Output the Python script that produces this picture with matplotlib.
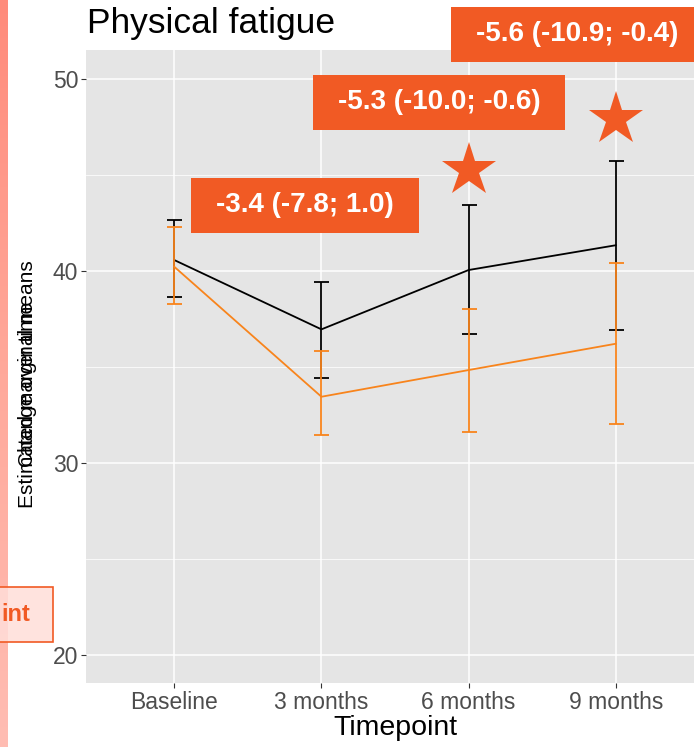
import numpy as np
import matplotlib
matplotlib.use("Agg")
import matplotlib.pyplot as plt
import matplotlib.patches as mpatches
import matplotlib.transforms as mtransforms
from matplotlib.colors import LinearSegmentedColormap

plt.rcParams['font.family'] = ['Liberation Sans', 'DejaVu Sans']

# ---------------- data ----------------
timepoints = ["Baseline", "3 months", "6 months", "9 months"]
ref_mean = [40.57, 36.96, 40.05, 41.34]
ref_lo = [38.63, 34.41, 36.72, 36.94]
ref_hi = [42.66, 39.44, 43.42, 45.71]
int_mean = [40.22, 33.45, 34.84, 36.21]
int_lo = [38.27, 31.44, 31.61, 32.03]
int_hi = [42.27, 35.83, 38.00, 40.43]
diff_labels = ["-3.4 (-7.8; 1.0)", "-5.3 (-10.0; -0.6)", "-5.6 (-10.9; -0.4)"]
label_x = [1.89, 2.80, 3.735]
label_y = [43.42, 48.78, 52.32]
star_x = [3, 4]
star_y = [45.24, 47.92]
yticks = [20, 30, 40, 50]
yminor = [25, 35, 45]

ACCENT = "#F15A24"
ORANGE = "#F8841C"

W, H = 694, 747
fig = plt.figure(figsize=(W / 100, H / 100), dpi=100)
fig.patch.set_facecolor("white")

# panel (extends a bit beyond right edge, as in the cropped reference)
ax = fig.add_axes([86 / W, (H - 683) / H, 618 / W, 633 / H])
ax.set_facecolor("#E5E5E5")
for s in ax.spines.values():
    s.set_visible(False)

x = np.arange(1, len(timepoints) + 1)
ax.set_xlim(0.4, 4.6)
ax.set_ylim(18.54, 51.51)
ax.set_xticks(x)
ax.set_xticklabels(timepoints)
ax.set_yticks(yticks)
ax.set_yticks(yminor, minor=True)
ax.grid(which="major", color="white", linewidth=1.1)
ax.grid(which="minor", axis="y", color="white", linewidth=0.55)
ax.set_axisbelow(True)
ax.tick_params(axis="both", which="major", length=3.5, width=0.8, color="#333333",
               labelcolor="#4D4D4D", labelsize=16.5, pad=2)
ax.tick_params(axis="both", which="minor", length=0)

LW = 1.3
# series
ax.plot(x, ref_mean, color="black", lw=LW, zorder=3)
ax.errorbar(x, ref_mean,
            yerr=[np.array(ref_mean) - np.array(ref_lo), np.array(ref_hi) - np.array(ref_mean)],
            fmt="none", ecolor="black", elinewidth=LW, capsize=5.4, capthick=LW, zorder=3)
ax.plot(x, int_mean, color=ORANGE, lw=LW, zorder=4)
ax.errorbar(x, int_mean,
            yerr=[np.array(int_mean) - np.array(int_lo), np.array(int_hi) - np.array(int_mean)],
            fmt="none", ecolor=ORANGE, elinewidth=LW, capsize=5.4, capthick=LW, zorder=4)

# stars
ax.plot(star_x, star_y, linestyle="none", marker="*", markersize=41, color=ACCENT,
        markeredgewidth=0, zorder=5, clip_on=False)

# labels
texts = []
for lx, ly, lab in zip(label_x, label_y, diff_labels):
    t = ax.text(lx, ly, lab, ha="center", va="center", color="white",
                fontsize=20, fontweight="bold", zorder=7, clip_on=False)
    texts.append(t)

fig.canvas.draw()
renderer = fig.canvas.get_renderer()
for t, lx, ly in zip(texts, label_x, label_y):
    bb = t.get_window_extent(renderer)
    w = bb.width + 50
    h = 55
    tr = mtransforms.IdentityTransform() + mtransforms.ScaledTranslation(lx, ly, ax.transData)
    rect = mpatches.Rectangle((-w / 2, -h / 2), w, h, transform=tr, facecolor=ACCENT,
                              edgecolor="none", zorder=6, clip_on=False)
    ax.add_patch(rect)

ax.set_xlabel("Timepoint", fontsize=20.5, color="black", labelpad=1)

# title
fig.text(87 / W, 1 - 33 / H, "Physical fatigue", fontsize=25.5, color="black",
         ha="left", va="baseline")

# overlapping y labels (as in the reference)
fig.text(28 / W, 1 - 384 / H, "Estimated marginal means", rotation=90, fontsize=15,
         ha="center", va="center", color="black")
fig.text(28 / W, 1 - 384 / H, "Change over time", rotation=90, fontsize=15,
         ha="center", va="center", color="black")

# left decorative strip (gradient)
sax = fig.add_axes([0, 0, 8 / W, 1])
cmap = LinearSegmentedColormap.from_list("strip", ["#FF8B7B", "#FFA99B", "#FFBDB3"])
sax.imshow(np.linspace(0, 1, 256).reshape(-1, 1), aspect="auto", cmap=cmap,
           extent=[0, 1, 0, 1], origin="upper")
sax.set_axis_off()

# cropped label box at left
fig.patches.append(mpatches.Rectangle((-40 / W, 1 - 642 / H), 93 / W, 55 / H,
                                      transform=fig.transFigure,
                                      facecolor=(1.0, 0.87, 0.85, 0.85),
                                      edgecolor=ACCENT, linewidth=1.2, zorder=10))
fig.text(1 / W, 1 - 614.5 / H, "int", fontsize=17, fontweight="bold", color=ACCENT,
         ha="left", va="center", zorder=11)

fig.savefig("out.png", dpi=100, facecolor="white")
